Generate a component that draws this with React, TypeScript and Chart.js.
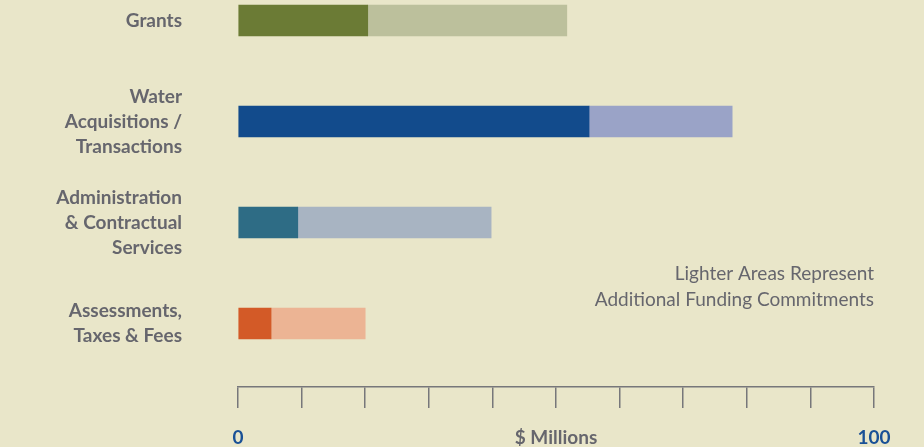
import React, { useEffect, useRef } from "react";
import { Chart, registerables } from "chart.js";

Chart.register(...registerables);

const categories: string[][] = [
  ["Grants"],
  ["Water", "Acquisitions /", "Transactions"],
  ["Administration", "& Contractual", "Services"],
  ["Assessments,", "Taxes & Fees"],
];
const committed: number[] = [20.4, 55.2, 9.4, 5.2];
const additional: number[] = [31.3, 22.5, 30.4, 14.8];
const darkColors: string[] = ["#6b7b35", "#124b8c", "#2e6c85", "#d35a27"];
const lightColors: string[] = ["#bcc09c", "#9aa3c7", "#a8b4c2", "#ecb494"];
const xTickLabels: Record<number, string> = { 0: "0", 50: "$ Millions", 100: "100" };
const noteLines: string[] = ["Lighter Areas Represent", "Additional Funding Commitments"];

const BG = "#e9e6c9";
const GREY = "#66666d";
const BLUE = "#1a5196";

export default function App() {
  const ref = useRef<HTMLCanvasElement | null>(null);
  useEffect(() => {
    document.body.style.margin = "0";
    document.body.style.background = BG;
    const canvas = ref.current!;
    const bgPlugin = {
      id: "bg",
      beforeDraw(chart: any) {
        const c = chart.ctx;
        c.save();
        c.fillStyle = BG;
        c.fillRect(0, 0, chart.width, chart.height);
        c.restore();
      },
      afterDraw(chart: any) {
        const c = chart.ctx;
        const a = chart.chartArea;
        c.save();
        c.font = "19px Lato";
        c.fillStyle = GREY;
        c.textAlign = "right";
        c.textBaseline = "middle";
        noteLines.forEach((t, i) => c.fillText(t, a.right, 274 + i * 26));
        c.restore();
      },
    };
    const chart = new Chart(canvas, {
      type: "bar",
      data: {
        datasets: [
          {
            data: committed.map((v, i) => ({ x: v, y: i })),
            backgroundColor: darkColors,
            barThickness: 31,
            borderWidth: 0,
          },
          {
            data: additional.map((v, i) => ({ x: v, y: i })),
            backgroundColor: lightColors,
            barThickness: 31,
            borderWidth: 0,
          },
        ],
      },
      options: {
        animation: false,
        responsive: false,
        indexAxis: "y",
        layout: { autoPadding: false, padding: { top: 0, right: 50, left: 0, bottom: 0 } },
        plugins: { legend: { display: false }, tooltip: { enabled: false } },
        scales: {
          x: {
            type: "linear",
            stacked: true,
            min: 0,
            max: 100,
            offset: false,
            afterFit: (s: any) => {
              s.height = 60;
              s.paddingLeft = 0;
              s.paddingRight = 0;
            },
            border: { display: true, color: "#77777a", width: 1.5 },
            grid: {
              display: true,
              offset: false,
              drawOnChartArea: false,
              drawTicks: true,
              tickLength: 21,
              color: "#77777a",
              lineWidth: 1.5,
            },
            ticks: {
              stepSize: 10,
              autoSkip: false,
              maxRotation: 0,
              padding: 18,
              font: { family: "Lato", size: 19, weight: "bold" },
              color: (ctx: any) => (ctx.tick && ctx.tick.value === 50 ? GREY : BLUE),
              callback: (v: any) => xTickLabels[v as number] ?? "",
            },
          },
          y: {
            type: "linear",
            stacked: true,
            reverse: true,
            offset: false,
            min: -0.203,
            max: 3.629,
            afterFit: (s: any) => {
              s.width = 238;
              s.paddingTop = 0;
              s.paddingBottom = 0;
            },
            afterBuildTicks: (s: any) => {
              s.ticks = categories.map((_, i) => ({ value: i }));
            },
            border: { display: false },
            grid: { display: false, drawTicks: false, offset: false },
            ticks: {
              autoSkip: false,
              padding: 56,
              font: { family: "Lato", size: 19, weight: "bold", lineHeight: 1.32 },
              color: GREY,
              callback: (v: any) => categories[v as number] ?? "",
            },
          },
        },
      },
      plugins: [bgPlugin],
    } as any);
    return () => chart.destroy();
  }, []);
  return (
    <div style={{ position: "fixed", left: 0, top: 0, width: 924, height: 447, background: BG }}>
      <canvas ref={ref} width={924} height={447} />
    </div>
  );
}
